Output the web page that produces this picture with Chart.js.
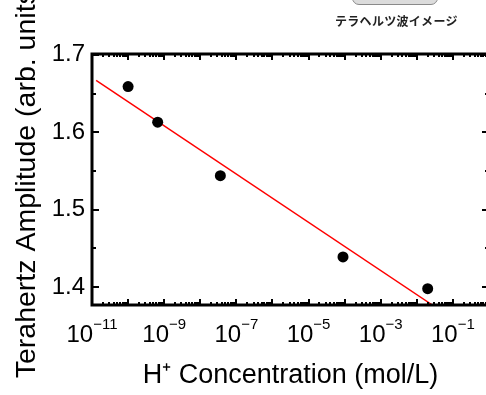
<!DOCTYPE html>
<html>
<head>
<meta charset="utf-8">
<script src="https://cdn.jsdelivr.net/npm/chart.js@4"></script>
<style>
html, body { margin: 0; padding: 0; background: #fff; overflow: hidden; }
#wrap { position: relative; width: 486px; height: 395px; overflow: hidden; }
#chart { position: absolute; left: 0; top: 0; width: 495px; height: 395px; }
#btn { position: absolute; left: 352px; top: -14px; width: 84px; height: 17px; border: 1px solid #8a8a8a; border-radius: 7px; background: #dcdcdc; }
#cap { position: absolute; left: 335px; top: 12px; font: bold 12px "Noto Sans CJK JP"; color: #222; letter-spacing: 0.3px; }
</style>
</head>
<body>
<div id="wrap">
  <canvas id="chart" width="495" height="395"></canvas>
  <div id="btn"></div>
  <div id="cap">テラヘルツ波イメージ</div>
</div>
<script>
// measured points
const concentration = [1.0e-10, 6.6e-10, 3.6e-8, 9.0e-5, 2.0e-2]
const amplitude = [1.659, 1.613, 1.544, 1.439, 1.398]

// fitted line (end points)
const fitX = [1.3e-11, 2.7e-2]
const fitY = [1.667, 1.377]

// axis ticks
const yTicks = [1.4, 1.5, 1.6, 1.7]
const yMinorTicks = [1.45, 1.55, 1.65]
const xTickExponents = [-11, -9, -7, -5, -3, -1]

const FONT = '"Liberation Sans", Arial, sans-serif'

// inward ticks, box frame and 10^n labels
const frame = {
    id: 'frame',
    afterDraw(chart) {
        const { ctx, chartArea: a, scales: { x, y } } = chart
        ctx.save()
        ctx.strokeStyle = '#000'
        ctx.lineWidth = 2
        ctx.beginPath()
        for (let e = -11; e <= 0; e++) {
            for (let m = 1; m < 10; m++) {
                const v = m * Math.pow(10, e)
                if (v > x.max) break
                const px = Math.round(x.getPixelForValue(v))
                const len = m === 1 ? 6 : 3
                ctx.moveTo(px, a.bottom)
                ctx.lineTo(px, a.bottom - len)
                ctx.moveTo(px, a.top)
                ctx.lineTo(px, a.top + len)
            }
        }
        yTicks.concat(yMinorTicks).forEach((v) => {
            const py = Math.round(y.getPixelForValue(v))
            const len = yTicks.includes(v) ? 7 : 4
            ctx.moveTo(a.left, py)
            ctx.lineTo(a.left + len, py)
            ctx.moveTo(a.right, py)
            ctx.lineTo(a.right - len, py)
        })
        ctx.stroke()
        ctx.lineWidth = 3
        ctx.strokeRect(a.left, a.top, a.right - a.left, a.bottom - a.top)

        ctx.fillStyle = '#000'
        ctx.textBaseline = 'alphabetic'
        ctx.textAlign = 'left'
        xTickExponents.forEach((e) => {
            const px = x.getPixelForValue(Math.pow(10, e))
            const sup = '\u2212' + Math.abs(e)
            ctx.font = '24px ' + FONT
            const wb = ctx.measureText('10').width
            ctx.font = '15px ' + FONT
            const ws = ctx.measureText(sup).width
            const left = px - (wb + ws) / 2
            ctx.font = '24px ' + FONT
            ctx.fillText('10', left, 342)
            ctx.font = '15px ' + FONT
            ctx.fillText(sup, left + wb, 329)
        })
        ctx.restore()
    }
}

const ctx0 = document.getElementById('chart')

const chart = new Chart(ctx0, {
    type: 'scatter',
    data: {
        datasets: [
            {
                label: 'data',
                data: concentration.map((c, i) => ({ x: c, y: amplitude[i] })),
                backgroundColor: '#000',
                borderWidth: 0,
                pointRadius: 5.5,
                pointHoverRadius: 5.5
            },
            {
                label: 'fit',
                data: fitX.map((c, i) => ({ x: c, y: fitY[i] })),
                showLine: true,
                borderColor: '#ff0000',
                borderWidth: 1.5,
                pointRadius: 0,
                pointHoverRadius: 0
            }
        ]
    },
    options: {
        responsive: false,
        animation: false,
        layout: { padding: { top: 54, right: 6, bottom: 0, left: 0 } },
        plugins: {
            legend: { display: false },
            tooltip: { enabled: false }
        },
        scales: {
            x: {
                type: 'logarithmic',
                min: 1e-11,
                max: 1,
                grid: { display: false, drawTicks: false },
                border: { display: false },
                ticks: { display: false },
                title: {
                    display: true,
                    text: 'H\u207A Concentration (mol/L)',
                    color: '#000',
                    font: { family: FONT, size: 27 },
                    padding: { top: 0, bottom: 3 }
                },
                afterFit: (s) => { s.height = 90 }
            },
            y: {
                min: 1.377,
                max: 1.701,
                grid: { display: false, drawTicks: false },
                border: { display: false },
                afterBuildTicks: (s) => { s.ticks = yTicks.map((v) => ({ value: v })) },
                ticks: {
                    color: '#000',
                    font: { family: FONT, size: 24 },
                    padding: 7,
                    callback: (v) => v.toFixed(1)
                },
                title: {
                    display: true,
                    text: 'Terahertz Amplitude (arb. units)',
                    color: '#000',
                    font: { family: FONT, size: 28.5 },
                    padding: { top: 10, bottom: 0 }
                },
                afterFit: (s) => { s.width = 92 }
            }
        }
    },
    plugins: [frame]
})
</script>
</body>
</html>
